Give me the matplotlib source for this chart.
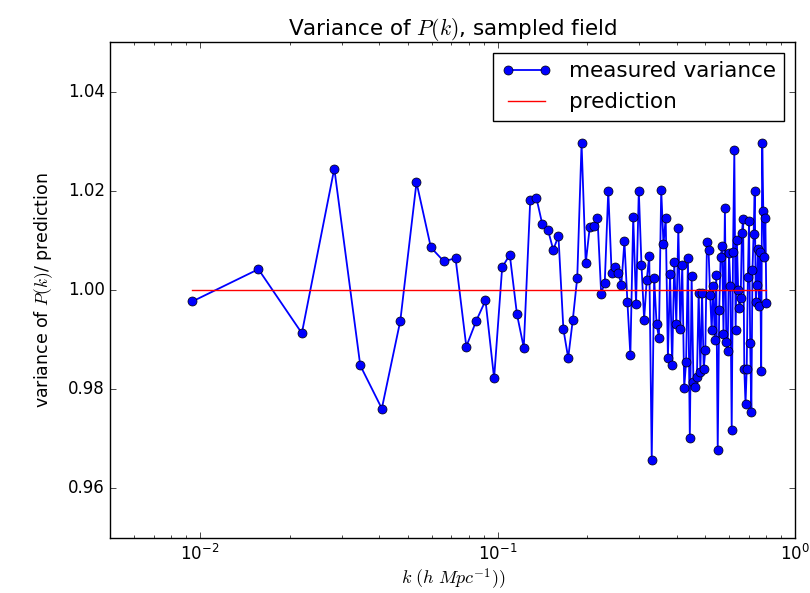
import numpy as np
import matplotlib
matplotlib.use("Agg")
import matplotlib.pyplot as plt

# k bins (h/Mpc)
K = [
    0.00942, 0.01571, 0.02199, 0.02827, 0.03456, 0.04084, 0.04712, 0.05341,
    0.05969, 0.06597, 0.07226, 0.07854, 0.08482, 0.09111, 0.09739, 0.10367,
    0.10996, 0.11624, 0.12252, 0.12881, 0.13509, 0.14137, 0.14765, 0.15394,
    0.16022, 0.16650, 0.17279, 0.17907, 0.18535, 0.19164, 0.19792, 0.20420,
    0.21049, 0.21677, 0.22305, 0.22934, 0.23562, 0.24190, 0.24819, 0.25447,
    0.26075, 0.26704, 0.27332, 0.27960, 0.28588, 0.29217, 0.29845, 0.30473,
    0.31102, 0.31730, 0.32358, 0.32987, 0.33615, 0.34243, 0.34872, 0.35500,
    0.36128, 0.36757, 0.37385, 0.38013, 0.38642, 0.39270, 0.39898, 0.40527,
    0.41155, 0.41783, 0.42412, 0.43040, 0.43668, 0.44296, 0.44925, 0.45553,
    0.46181, 0.46810, 0.47438, 0.48066, 0.48695, 0.49323, 0.49951, 0.50580,
    0.51208, 0.51836, 0.52465, 0.53093, 0.53721, 0.54350, 0.54978, 0.55606,
    0.56235, 0.56863, 0.57491, 0.58119, 0.58748, 0.59376, 0.60004, 0.60633,
    0.61261, 0.61889, 0.62518, 0.63146, 0.63774, 0.64403, 0.65031, 0.65659,
    0.66288, 0.66916, 0.67544, 0.68173, 0.68801, 0.69429, 0.70058, 0.70686,
    0.71314, 0.71942, 0.72571, 0.73199, 0.73827, 0.74456, 0.75084, 0.75712,
    0.76341, 0.76969, 0.77597, 0.78226, 0.78854, 0.79482, 0.80111,
]

# measured variance / prediction
VAR_RATIO = [
    0.9977, 1.0042, 0.9913, 1.0245, 0.9848, 0.9761, 0.9938, 1.0217,
    1.0086, 1.0058, 1.0064, 0.9886, 0.9938, 0.9979, 0.9822, 1.0046,
    1.0071, 0.9951, 0.9884, 1.0181, 1.0186, 1.0133, 1.0122, 1.0081,
    1.0109, 0.9921, 0.9863, 0.9940, 1.0025, 1.0296, 1.0054, 1.0127,
    1.0129, 1.0146, 0.9993, 1.0015, 1.0200, 1.0034, 1.0047, 1.0034,
    1.0011, 1.0098, 0.9975, 0.9869, 1.0148, 0.9971, 1.0200, 1.0051,
    0.9940, 1.0020, 1.0069, 0.9658, 1.0025, 0.9932, 0.9904, 1.0202,
    1.0092, 1.0146, 0.9863, 1.0033, 0.9848, 1.0056, 0.9932, 1.0125,
    0.9922, 1.0050, 0.9803, 0.9855, 1.0064, 0.9702, 1.0028, 0.9814,
    0.9804, 0.9825, 0.9995, 0.9834, 0.9995, 0.9841, 0.9879, 1.0096,
    1.0080, 0.9991, 0.9919, 1.0009, 0.9900, 1.0030, 0.9678, 0.9959,
    1.0066, 1.0088, 0.9912, 1.0165, 0.9895, 0.9877, 1.0074, 1.0009,
    0.9718, 1.0076, 1.0282, 0.9919, 1.0100, 1.0001, 0.9964, 0.9983,
    1.0115, 1.0144, 0.9840, 0.9770, 0.9840, 1.0026, 1.0139, 0.9893,
    0.9755, 1.0041, 1.0112, 1.0200, 0.9976, 1.0011, 1.0083, 0.9967,
    1.0076, 0.9837, 1.0297, 1.0160, 1.0066, 1.0146, 0.9974,
]

PREDICTION = 1.0

YTICKS = [0.96, 0.98, 1.00, 1.02, 1.04]

plt.style.use("classic")
plt.rcParams["mathtext.fontset"] = "cm"

fig = plt.figure(figsize=(8.1, 5.93), dpi=100, facecolor="white")
ax = fig.add_axes([0.1364, 0.0927, 0.8451, 0.8364])

k = np.array(K)
ax.plot(k, VAR_RATIO, "bo-", markersize=6.5, linewidth=1.3,
        label="measured variance")
ax.plot(k, np.full(len(k), PREDICTION), "r-", label="prediction")

ax.set_xscale("log")
ax.set_xlim(0.005, 1.0)
ax.set_ylim(0.95, 1.05)
ax.set_yticks(YTICKS)
ax.set_yticklabels([f"{t:.2f}" for t in YTICKS])

ax.set_title(r"Variance of $P(k)$, sampled field", fontsize=15.5)
ax.set_xlabel(r"$k\ (h\ Mpc^{-1}))$", fontsize=13, labelpad=2)
ax.set_ylabel(r"variance of $P(k)$/ prediction", fontsize=12.5, labelpad=9)
ax.legend(loc="upper right", numpoints=2, fontsize=15.5, handlelength=2.3)

fig.savefig("out.png", dpi=100, facecolor="white")
